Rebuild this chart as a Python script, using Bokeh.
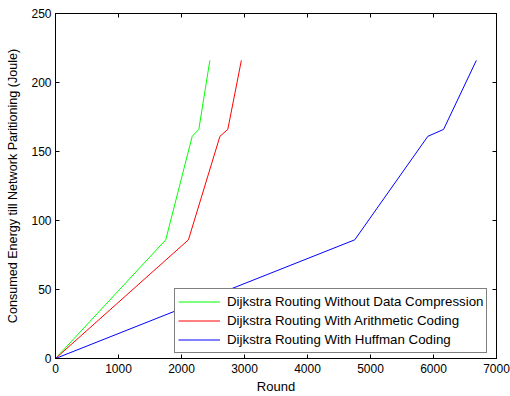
from bokeh.plotting import figure
from bokeh.models import LinearAxis, FixedTicker, Range1d, Legend, LegendItem, CustomJSTickFormatter
from bokeh.embed import file_html
from bokeh.resources import INLINE

# Rounds at which cumulative energy levels are reached
energy = [0, 86, 161, 166, 216]
rounds_plain = [0, 1750, 2170, 2275, 2450]
rounds_arith = [0, 2110, 2610, 2735, 2950]
rounds_huff = [0, 4750, 5910, 6160, 6680]

labels = [
    "Dijkstra Routing Without Data Compression",
    "Dijkstra Routing With Arithmetic Coding",
    "Dijkstra Routing With Huffman Coding",
]
colors = ["#00ff00", "#ff0000", "#0000ff"]

x_ticks = [0, 1000, 2000, 3000, 4000, 5000, 6000, 7000]
y_ticks = [0, 50, 100, 150, 200, 250]

FONT = "Liberation Sans"

p = figure(
    width=510, height=396,
    x_range=Range1d(0, 7000), y_range=Range1d(0, 250),
    output_backend="svg", toolbar_location=None,
    x_axis_label="Round",
    y_axis_label="Consumed Energy till Network Paritioning (Joule)",
    min_border_left=55, min_border_right=14, min_border_top=13, min_border_bottom=38,
)
p.grid.visible = False
p.outline_line_color = "black"
p.outline_line_width = 1
p.background_fill_color = "white"
p.border_fill_color = "white"

for ax in (p.xaxis[0], p.yaxis[0]):
    ax.major_tick_in = 4
    ax.major_tick_out = 0
    ax.minor_tick_line_color = None
    ax.axis_line_color = "black"
    ax.major_tick_line_color = "black"
    ax.major_label_text_font = FONT
    ax.major_label_text_font_size = "12px"
    ax.major_label_text_color = "black"
    ax.axis_label_text_font = FONT
    ax.axis_label_text_font_style = "normal"
    ax.axis_label_text_color = "black"

p.xaxis[0].axis_label_text_font_size = "13px"
p.yaxis[0].axis_label_text_font_size = "12.6px"
p.xaxis[0].ticker = FixedTicker(ticks=x_ticks)
p.yaxis[0].ticker = FixedTicker(ticks=y_ticks)
p.xaxis[0].major_label_standoff = 5
p.xaxis[0].axis_label_standoff = 3
p.yaxis[0].major_label_standoff = 4
p.yaxis[0].axis_label_standoff = 8

# box ticks on the top and right edges
blank = CustomJSTickFormatter(code="return ''")
top = LinearAxis(ticker=FixedTicker(ticks=x_ticks), formatter=blank)
right = LinearAxis(ticker=FixedTicker(ticks=y_ticks), formatter=blank)
for ax in (top, right):
    ax.major_tick_in = 4
    ax.major_tick_out = 0
    ax.minor_tick_line_color = None
    ax.major_label_text_font_size = "1px"
    ax.major_label_standoff = 0
    ax.axis_line_color = "black"
p.add_layout(top, "above")
p.add_layout(right, "right")

items = []
for xs, c, lab in zip([rounds_plain, rounds_arith, rounds_huff], colors, labels):
    r = p.line(xs, energy, line_color=c, line_width=1)
    items.append(LegendItem(label=lab, renderers=[r]))

legend = Legend(items=items, location=(119, 5))
legend.label_text_font = FONT
legend.label_text_font_size = "13.3px"
legend.label_text_color = "black"
legend.glyph_width = 42
legend.glyph_height = 19
legend.label_height = 19
legend.spacing = 0
legend.padding = 3
legend.margin = 0
legend.label_standoff = 7
legend.border_line_color = "black"
legend.border_line_width = 1
legend.background_fill_alpha = 1
p.add_layout(legend, "center")

open("out.html", "w").write(file_html(p, INLINE))
